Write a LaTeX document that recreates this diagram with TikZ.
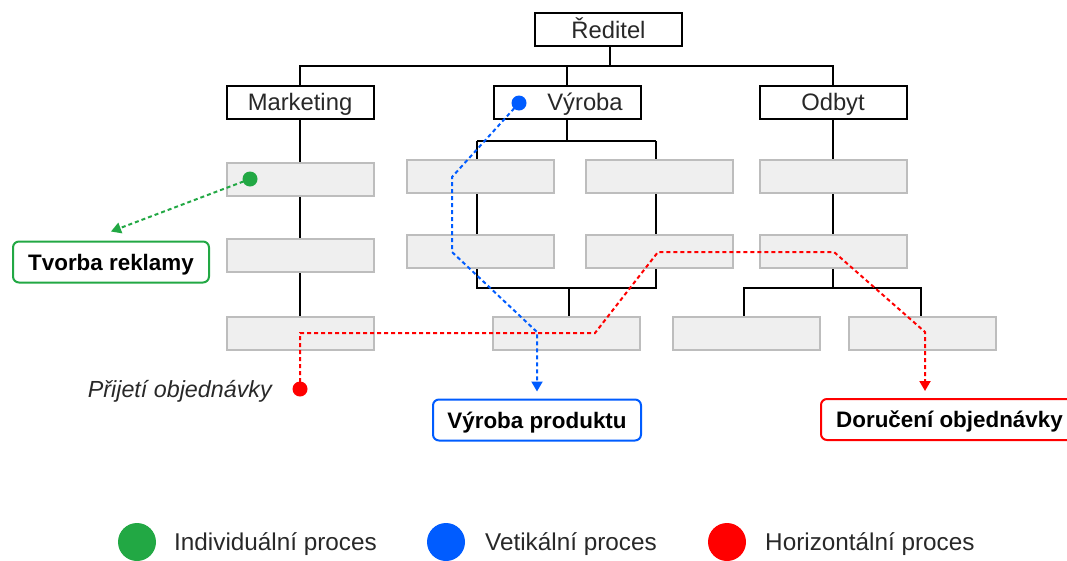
\documentclass[tikz,border=0pt]{standalone}
\usepackage{fontspec}
\setmainfont{Liberation Sans}
\usetikzlibrary{arrows.meta}

\definecolor{procgreen}{RGB}{34,168,68}
\definecolor{procblue}{RGB}{0,92,255}
\definecolor{procred}{RGB}{255,0,0}
\definecolor{slotfill}{RGB}{239,239,239}
\definecolor{slotline}{RGB}{189,189,189}
\definecolor{labeltext}{RGB}{40,40,40}

\tikzset{
  orgfont/.style={text=labeltext, font=\fontsize{23.8}{27}\selectfont, text height=17pt, text depth=0pt},
  orgbox/.style={draw=black, line width=2pt, fill=white, minimum width=147pt,
    minimum height=33pt, inner sep=0pt, orgfont},
  slot/.style={draw=slotline, line width=2pt, fill=slotfill, minimum width=147pt,
    minimum height=33pt, inner sep=0pt},
  tree/.style={draw=black, line width=2pt},
  procbox/.style={draw=#1, line width=2pt, fill=white, rounded corners=6pt,
    minimum height=41pt, inner sep=0pt, text height=16pt, text depth=0pt,
    font=\fontsize{22.4}{26}\selectfont\bfseries},
  flow/.style={draw=#1, line width=2pt, dash pattern=on 4pt off 3pt,
    -{Triangle[length=10pt,width=11pt]}},
  startdot/.style={fill=#1, circle, minimum size=15pt, inner sep=0pt},
  legenddot/.style={fill=#1, circle, minimum size=38pt, inner sep=0pt},
  legendtext/.style={anchor=west, inner sep=0pt, text=labeltext, text height=17.4pt, text depth=0pt,
    font=\fontsize{24.3}{28}\selectfont},
}

\begin{document}
\begin{tikzpicture}[x=1pt,y=-1pt]
\useasboundingbox (0,0) rectangle (1067,560);

% ---- bus junctions of the tree ----
\coordinate (topbus) at (610,66);
\coordinate (vyrbus) at (567,141);
\coordinate (vyrL) at (477,141);
\coordinate (vyrR) at (656,141);
\coordinate (vyrLb) at (477,288);
\coordinate (vyrRb) at (656,288);
\coordinate (vyrmid) at (569,288);
\coordinate (odbbus) at (833,288);
\coordinate (odbL) at (744,288);
\coordinate (odbR) at (921,288);

% ---- top level ----
\node[orgbox] (dir) at (608.5,29.5) {Ředitel};
\node[orgbox] (mkt) at (300,102) {Marketing};
\node[orgbox] (vyr) at (567,102) {};
\node[anchor=center, inner sep=0pt, orgfont] (vyrlabel) at (585,102) {Výroba};
\node[orgbox] (odb) at (833,102) {Odbyt};

% ---- grey slots ----
\node[slot] (m1) at (300,179.5) {};
\node[slot] (m2) at (300,255.5) {};
\node[slot] (m3) at (300,333) {};
\node[slot] (v1L) at (480,176.5) {};
\node[slot] (v1R) at (659.5,176.5) {};
\node[slot] (v2L) at (480,251.5) {};
\node[slot] (v2R) at (659.5,251.5) {};
\node[slot] (v3) at (566.5,333) {};
\node[slot] (o1) at (833,176.5) {};
\node[slot] (o2) at (833,251.5) {};
\node[slot] (o3L) at (746,333) {};
\node[slot] (o3R) at (922,333) {};

% ---- connectors between boxes ----
\draw[tree] (dir.south -| topbus) -- (topbus);
\draw[tree] (mkt.north) -- (mkt.north |- topbus) -- (odb.north |- topbus) -- (odb.north);
\draw[tree] (vyr.north) -- (vyr.north |- topbus);

\draw[tree] (mkt.south) -- (m1.north);
\draw[tree] (m1.south) -- (m2.north);
\draw[tree] (m2.south) -- (m3.north);

\draw[tree] (vyr.south -| vyrbus) -- (vyrbus);
\draw[tree] (vyrL) -- (vyrR);
\draw[tree] (vyrL) -- (v1L.north -| vyrL);
\draw[tree] (vyrR) -- (v1R.north -| vyrR);
\draw[tree] (v1L.south -| vyrL) -- (v2L.north -| vyrL);
\draw[tree] (v1R.south -| vyrR) -- (v2R.north -| vyrR);
\draw[tree] (v2L.south -| vyrL) -- (vyrLb) -- (vyrRb) -- (v2R.south -| vyrR);
\draw[tree] (vyrmid) -- (v3.north -| vyrmid);

\draw[tree] (odb.south) -- (o1.north);
\draw[tree] (o1.south) -- (o2.north);
\draw[tree] (o2.south) -- (odbbus);
\draw[tree] (o3L.north -| odbL) -- (odbL) -- (odbR) -- (o3R.north -| odbR);

% ---- process boxes ----
\node[procbox=procgreen, minimum width=196pt] (tvorba) at (111,262) {Tvorba reklamy};
\node[procbox=procblue, minimum width=208pt] (vyroba) at (537,420) {Výroba produktu};
\node[procbox=procred, minimum width=257pt] (doruc) at (949.5,419.5) {Doručení objednávky};
\node[anchor=east, inner sep=0pt, text height=16.5pt, text depth=0pt,
  font=\fontsize{23.3}{27}\selectfont\itshape, text=labeltext] (prijeti) at (272,389) {Přijetí objednávky};

% ---- process flows ----
\coordinate (gdotc) at (250,179);
\coordinate (bdotc) at (519,103);
\coordinate (rdotc) at (300,389);
\coordinate (rend) at (925,391);

\draw[flow=procgreen] (gdotc) -- ([yshift=9pt]tvorba.north);
\draw[flow=procblue] (bdotc) -- (452,177) -- (452,252) -- (537,332) -- ([yshift=7pt]vyroba.north);
\draw[flow=procred] (rdotc) -- (300,333) -- (595,333) -- (658,252) -- (834,252) -- (925,332) -- (rend);

\node[startdot=procgreen] (gdot) at (gdotc) {};
\node[startdot=procblue] (bdot) at (bdotc) {};
\node[startdot=procred] (rdot) at (rdotc) {};

% ---- legend ----
\node[legenddot=procgreen] (lg) at (137,542) {};
\node[legendtext] (lgt) at (174,542) {Individuální proces};
\node[legenddot=procblue] (lb) at (446,542) {};
\node[legendtext] (lbt) at (485,542) {Vetikální proces};
\node[legenddot=procred] (lr) at (727,542) {};
\node[legendtext] (lrt) at (765,542) {Horizontální proces};
\end{tikzpicture}
\end{document}
